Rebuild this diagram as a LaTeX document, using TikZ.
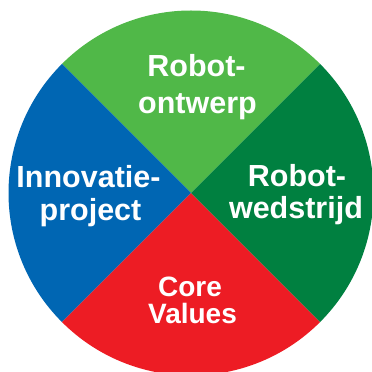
\documentclass[tikz,border=0pt]{standalone}
\usepackage{fontspec}
\setmainfont{Liberation Sans}
\definecolor{lgreen}{RGB}{80,184,72}
\definecolor{dgreen}{RGB}{0,128,64}
\definecolor{mblue}{RGB}{0,102,179}
\definecolor{mred}{RGB}{237,28,36}
\tikzset{
  lab/.style={text=white, font=\bfseries\fontsize{30.5}{36}\selectfont, inner sep=0pt, anchor=base},
  labs/.style={lab, font=\bfseries\fontsize{28}{33}\selectfont},
  sector/.style={draw=none}
}
\begin{document}
\begin{tikzpicture}[x=1pt,y=1pt]
\useasboundingbox (0,0) rectangle (372,372);
\coordinate (c) at (191,179);
\def\R{182.5}
\fill[lgreen] (c) -- ++(45:\R) arc[start angle=45,end angle=135,radius=\R] -- cycle;
\fill[mblue] (c) -- ++(135:\R) arc[start angle=135,end angle=225,radius=\R] -- cycle;
\fill[mred] (c) -- ++(225:\R) arc[start angle=225,end angle=315,radius=\R] -- cycle;
\fill[dgreen] (c) -- ++(-45:\R) arc[start angle=-45,end angle=45,radius=\R] -- cycle;
\node[lab] (t1) at (196.5,295) {Robot-};
\node[lab] (t2) at (197.5,258) {ontwerp};
\node[lab] (l1) at (88.5,184) {Innovatie-};
\node[lab] (l2) at (90.5,151) {project};
\node[lab] (r1) at (297,185.5) {Robot-};
\node[lab] (r2) at (296,153) {wedstrijd};
\node[labs] (b1) at (190,75.5) {Core};
\node[labs] (b2) at (192.5,48.5) {Values};
\end{tikzpicture}
\end{document}
